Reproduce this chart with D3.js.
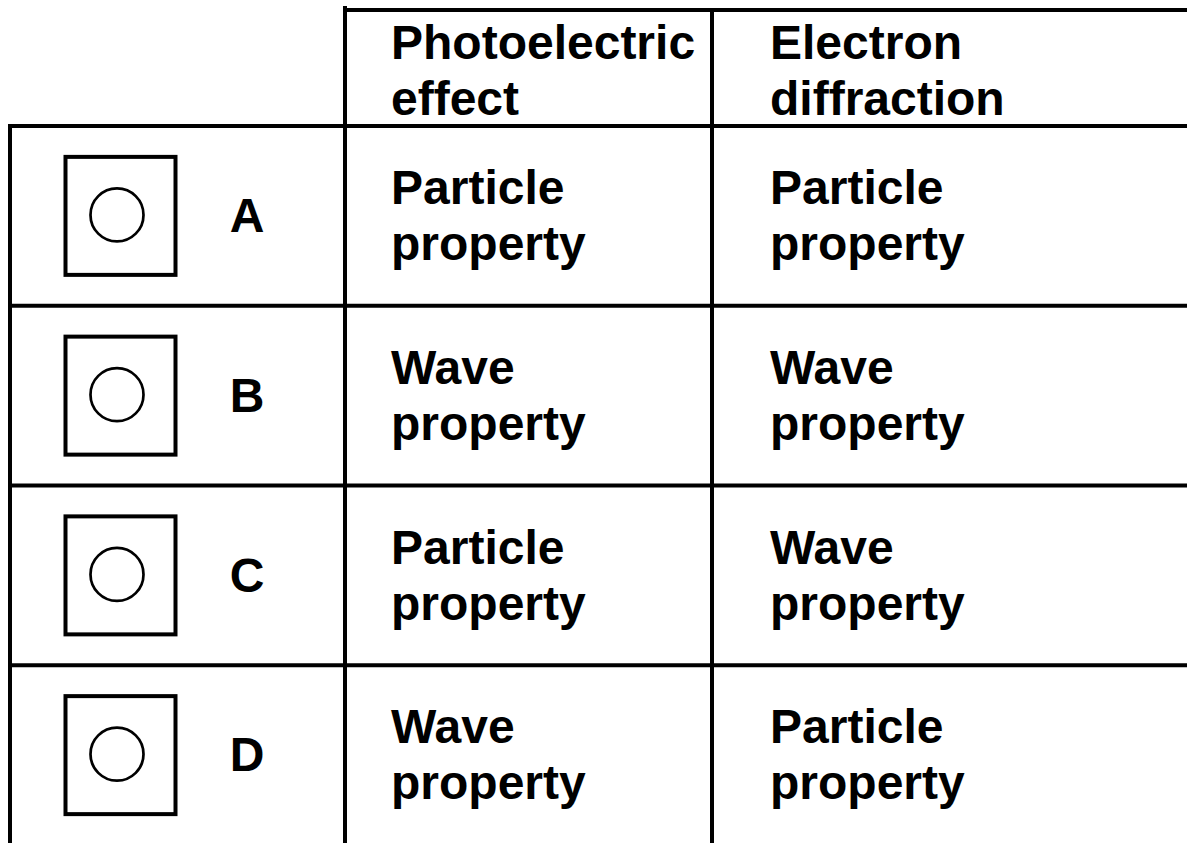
<!DOCTYPE html>
<html>
<head>
<meta charset="utf-8">
<script src="https://cdn.jsdelivr.net/npm/d3@7"></script>
<style>
  body { margin: 0; background: #fff; }
  text { font-family: "Liberation Sans", Arial, sans-serif; font-weight: bold; fill: #000; }
</style>
</head>
<body>
<div id="chart"></div>
<script>
// table content
const headers = [["Photoelectric", "effect"], ["Electron", "diffraction"]];
const options = ["A", "B", "C", "D"];
const photoelectric = ["Particle", "Wave", "Particle", "Wave"];
const diffraction = ["Particle", "Wave", "Wave", "Particle"];

const width = 1187, height = 843;

const svg = d3.select("#chart")
    .append("svg")
    .attr("width", width)
    .attr("height", height);

// rows: header band on top, answer rows below
const headerTop = 10, headerBottom = 126;
const yScale = d3.scaleBand()
    .domain(options)
    .range([headerBottom, 845]);

const colX = {left: 10, first: 345, second: 712, right: width};
const textX = [391, 770];
const fontSize = 48, lineGap = 56;

const lines = svg.append("g")
    .attr("stroke", "#000")
    .attr("stroke-width", 4);

// top border of the header cells
lines.append("line")
    .attr("x1", colX.first - 2).attr("x2", colX.right)
    .attr("y1", headerTop).attr("y2", headerTop);

// horizontal row borders
lines.selectAll(".row-line")
    .data(options)
    .enter()
    .append("line")
    .attr("class", "row-line")
    .attr("x1", colX.left - 2).attr("x2", colX.right)
    .attr("y1", (d) => yScale(d))
    .attr("y2", (d) => yScale(d));

// vertical borders
lines.append("line")
    .attr("x1", colX.left).attr("x2", colX.left)
    .attr("y1", headerBottom).attr("y2", height);
lines.append("line")
    .attr("x1", colX.first).attr("x2", colX.first)
    .attr("y1", 6).attr("y2", height);
lines.append("line")
    .attr("x1", colX.second).attr("x2", colX.second)
    .attr("y1", headerTop).attr("y2", height);

// header text
const headerCenter = (headerTop + headerBottom) / 2 + 2;
headers.forEach((h, i) => {
    svg.append("text")
        .attr("x", textX[i])
        .attr("y", headerCenter - lineGap / 2 + fontSize * 0.36)
        .attr("font-size", fontSize)
        .text(h[0]);
    svg.append("text")
        .attr("x", textX[i])
        .attr("y", headerCenter + lineGap / 2 + fontSize * 0.36)
        .attr("font-size", fontSize)
        .text(h[1]);
});

const rows = svg.selectAll(".row")
    .data(options)
    .enter()
    .append("g")
    .attr("class", "row")
    .attr("transform", (d) => `translate(0, ${yScale(d) + yScale.bandwidth() / 2})`);

// tick box with empty circle
rows.append("rect")
    .attr("x", 65.5)
    .attr("y", -59)
    .attr("width", 110)
    .attr("height", 118)
    .attr("fill", "none")
    .attr("stroke", "#000")
    .attr("stroke-width", 4);

rows.append("circle")
    .attr("cx", 117)
    .attr("cy", -1)
    .attr("r", 26.5)
    .attr("fill", "none")
    .attr("stroke", "#000")
    .attr("stroke-width", 2.7);

rows.append("text")
    .attr("x", 247)
    .attr("y", fontSize * 0.36 - 1)
    .attr("text-anchor", "middle")
    .attr("font-size", fontSize)
    .text((d) => d);

// answer cells
[photoelectric, diffraction].forEach((vals, i) => {
    rows.append("text")
        .attr("x", textX[i])
        .attr("y", -lineGap / 2 + fontSize * 0.36 - 1)
        .attr("font-size", fontSize)
        .text((d, j) => vals[j]);
    rows.append("text")
        .attr("x", textX[i])
        .attr("y", lineGap / 2 + fontSize * 0.36 - 1)
        .attr("font-size", fontSize)
        .text("property");
});
</script>
</body>
</html>
